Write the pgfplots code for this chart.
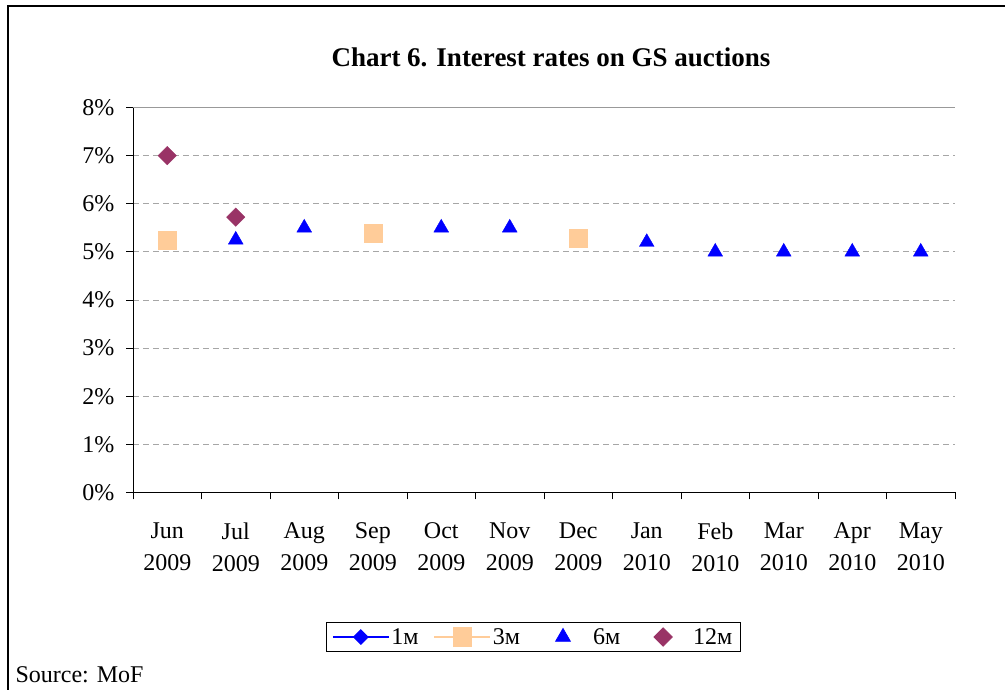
\documentclass[border=0pt]{standalone}
\usepackage{pgfplots}
\pgfplotsset{compat=1.18}
\usepackage{fontspec}
\setmainfont{Liberation Serif}
\definecolor{peach}{HTML}{FFCC99}
\definecolor{plum}{HTML}{993366}
\pgfplotsset{
  widelinelegend/.style={legend image code/.code={\draw[##1, mark=none] (0pt,0pt) -- (56pt,0pt); \draw[##1, only marks] plot coordinates {(28pt,0pt)};}},
  widemarklegend/.style={legend image code/.code={\path[draw=none, fill=none] (0pt,0pt) -- (56pt,0pt); \draw[##1, only marks] plot coordinates {(28pt,0pt)};}},
}
\begin{document}
\begin{tikzpicture}[x=1pt,y=1pt]
\path[use as bounding box] (0,0) rectangle (1005,690);
\draw[line width=1.2pt] (8,0) -- (8,684) -- (1005,684);
\node[font=\fontsize{27}{31}\selectfont\bfseries] at (551,633) {Chart 6. Interest rates on GS auctions};
\node[font=\fontsize{24}{28}\selectfont, anchor=west] at (12,15) {Source: MoF};
\begin{axis}[
  at={(133pt,197.5pt)}, anchor=south west,
  scale only axis, width=822pt, height=385pt,
  xmin=-0.5, xmax=11.5, ymin=0, ymax=8,
  axis x line*=bottom, axis y line*=left,
  axis line style={black, line width=0.9pt},
  xtick={-0.5,0.5,...,11.5},
  x tick label as interval,
  xticklabels={{Jun\\2009},{Jul\\2009},{Aug\\2009},{Sep\\2009},{Oct\\2009},{Nov\\2009},{Dec\\2009},{Jan\\2010},{Feb\\2010},{Mar\\2010},{Apr\\2010},{May\\2010}},
  xticklabel style={align=center, font=\fontsize{24}{32}\selectfont, yshift=-20pt},
  ytick={0,1,...,8},
  yticklabels={0\%,1\%,2\%,3\%,4\%,5\%,6\%,7\%,8\%},
  yticklabel style={font=\fontsize{24}{28}\selectfont, xshift=-8pt},
  tick align=outside, major tick length=7pt,
  tick style={black, line width=0.8pt},
  ymajorgrids, major grid style={gray!70, dashed, dash pattern=on 6pt off 4pt, line width=0.8pt},
  legend style={at={(0.487,-0.318)}, anchor=north, legend columns=4, draw=black, line width=0.8pt,
    font=\fontsize{24}{28}\selectfont, inner xsep=6pt, inner ysep=4pt, yshift=-7pt,
    /tikz/every even column/.append style={column sep=13pt}},
  legend cell align=left,
  clip=false,
]
\draw[gray!80, line width=0.9pt] (rel axis cs:0,1) -- (rel axis cs:1,1);
\addlegendimage{blue, line width=1.2pt, mark=square*, mark options={rotate=45, mark size=5pt, solid}, widelinelegend}
\addlegendentry{1м}
\addplot[only marks, mark=square*, mark size=9pt, color=peach, forget plot] coordinates {(0,5.25) (3,5.38) (6,5.28)};
\addlegendimage{peach, line width=1.2pt, mark=square*, mark options={mark size=9pt}, widelinelegend}
\addlegendentry{3м}
\addplot[only marks, mark=triangle*, mark size=8.5pt, color=blue, widemarklegend] coordinates {(1,5.25) (2,5.5) (4,5.5) (5,5.5) (7,5.2) (8,5.0) (9,5.0) (10,5.0) (11,5.0)};
\addlegendentry{6м}
\addplot[only marks, mark=square*, mark options={rotate=45}, mark size=6.5pt, color=plum, widemarklegend] coordinates {(0,7.0) (1,5.72)};
\addlegendentry{12м}
\end{axis}
\end{tikzpicture}
\end{document}
